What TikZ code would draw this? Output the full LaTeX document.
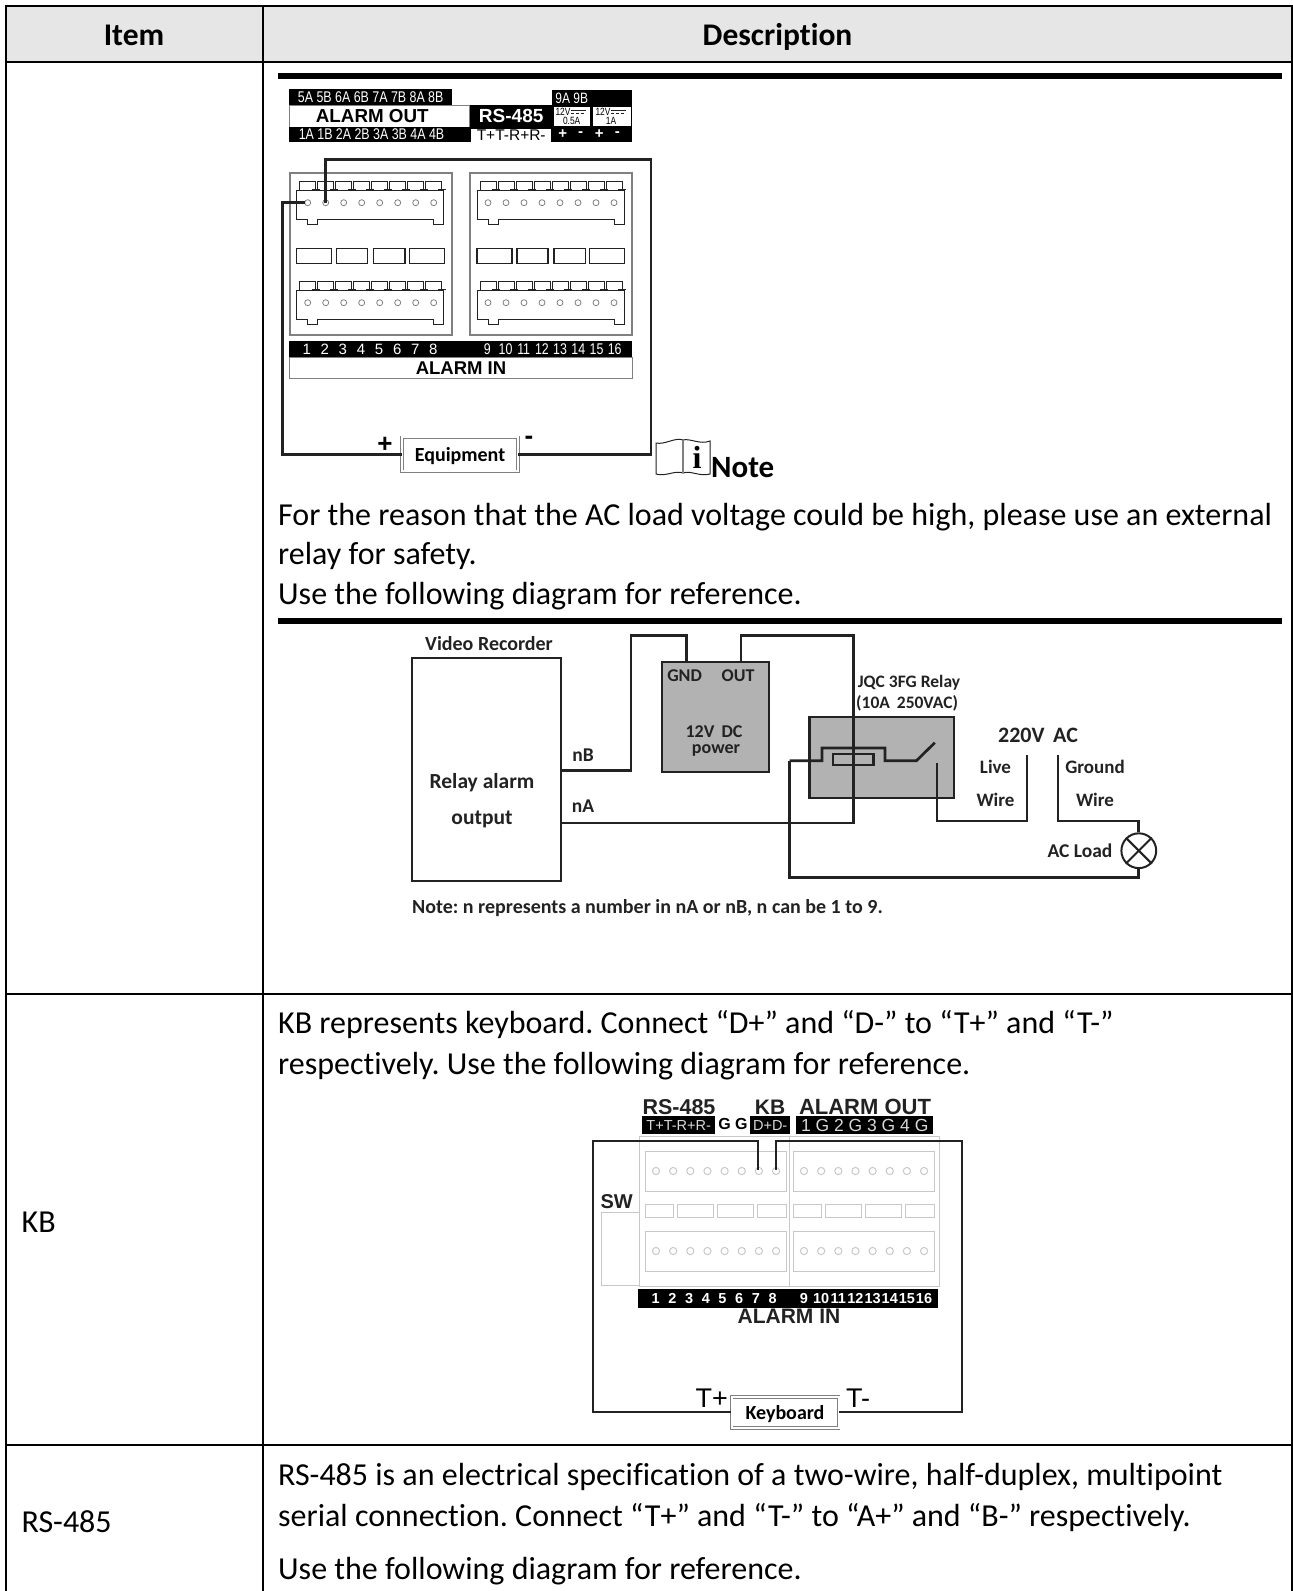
\documentclass[tikz,border=0pt]{standalone}
\usepackage{fontspec}
\setmainfont{Carlito}[Ligatures=NoCommon]
\newfontfamily\lblfont{Liberation Sans}
\newfontfamily\narrowfont[FakeStretch=0.8]{Liberation Sans}
\newfontfamily\iconfont{Liberation Serif}
\newcommand{\fs}[1]{\fontsize{#1}{#1}\selectfont}
\definecolor{headfill}{HTML}{E6E6E6}
\definecolor{boxgray}{HTML}{B2B2B2}
\definecolor{paleline}{HTML}{C8C8C8}
\definecolor{inkline}{HTML}{222222}
\frenchspacing
\tikzset{
rule/.style={line width=2pt, black},
bar/.style={line width=6pt, black},
body/.style={font=\fs{32}, anchor=base west, inner sep=0pt},
wire/.style={line width=2.7pt, inkline},
kbwire/.style={line width=2.2pt, inkline},
fine/.style={line width=0.9pt, inkline},
pale/.style={line width=1pt, paleline},
blackbar/.style={fill=black, text=white, inner sep=0pt, anchor=north west},
whitebar/.style={draw=gray, line width=1pt, fill=white, text=black, inner sep=0pt, anchor=north west},
devbox/.style={draw=gray, double=white, double distance=2pt, line width=0.8pt, fill=white, inner sep=0pt, text depth=0pt, font=\bfseries\fs{20}},
schembox/.style={draw=inkline, line width=2.6pt, inner sep=0pt, anchor=north west},
schemtext/.style={font=\bfseries\fs{19}, inner sep=0pt, text=inkline},
plug/.pic={
\draw[fine] (-11,-12) -- (-11,17) -- (0,17) -- (0,22) -- (10,22) -- (10,17) -- (126,17) -- (126,22) -- (136,22) -- (136,-12) -- cycle;
\foreach \i in {0,...,7} {
\draw[fine] (18*\i-8,-13) -- (18*\i-8,-21.5) -- (18*\i+8,-21.5) -- (18*\i+8,-13);
\draw[fine] (18*\i+4,-13) -- (18*\i+12,-13);
\draw[line width=0.8pt, gray] (18*\i,0) circle (3);
}
},
alarmblock/.pic={
\draw[line width=2pt, gray] (-17.7,-29.7) rectangle (144.3,132.3);
\pic at (0,0) {plug};
\pic at (0,100) {plug};
\foreach \a/\b in {-11/24, 29/60, 66/97.3, 101.6/136.6}
\draw[line width=1.2pt, inkline] (\a,45.6) rectangle (\b,60.6);
},
kbblock/.pic={
\foreach \yy in {0,80} {
\draw[pale] (-11,\yy-19.3) rectangle (130,\yy+20);
\foreach \i in {0,...,7}
\draw[pale] (17.15*\i,\yy) circle (3.6);
}
\foreach \a/\b in {-11/17.3, 21.3/57.3, 61.3/97.3, 101.3/130}
\draw[pale] (\a,33.3) rectangle (\b,46.7);
},
}
\begin{document}
\begin{tikzpicture}[x=1pt,y=-1pt]
\useasboundingbox (0,0) rectangle (1293,1591);
\fill[headfill] (6,6) rectangle (1291.7,62);
\draw[rule] (1291.7,1591) -- (1291.7,6) -- (6,6) -- (6,1591);
\draw[rule] (263,6) -- (263,1591);
\foreach \yy in {62,993.7,1445}
\draw[rule] (6,\yy) -- (1291.7,\yy);
\node[body, anchor=base, font=\bfseries\fs{31.5}] (itemhead) at (134,45.5) {Item};
\node[body, anchor=base, font=\bfseries\fs{31.5}] (deschead) at (777.5,45.5) {Description};

\draw[bar] (278,76) -- (1282,76);
\node[blackbar, minimum width=163pt, minimum height=16pt, font=\narrowfont\fs{15.5}] (outtop) at (289,89) {5A 5B 6A 6B 7A 7B 8A 8B};
\node[whitebar, minimum width=180pt, minimum height=22pt] (outname) at (289,105) {};
\node[inner sep=0pt, font=\lblfont\bfseries\fs{18.8}] (outtxt) at (372.3,116) {ALARM OUT};
\node[blackbar, minimum width=181pt, minimum height=15pt] (outbot) at (289,127) {};
\node[inner sep=0pt, text=white, font=\narrowfont\fs{15.5}] (outpins) at (371.5,134.5) {1A 1B 2A 2B 3A 3B 4A 4B};
\node[blackbar, minimum width=82pt, minimum height=22pt, font=\lblfont\bfseries\fs{19}] (rsname) at (470,105) {RS-485};
\node[blackbar, minimum width=82pt, minimum height=15pt] (rsback) at (470,127) {};
\node[fill=white, inner sep=0pt, minimum width=80pt, minimum height=13.5pt, anchor=north west, font=\lblfont\fs{15.5}] (rspins) at (471,128.3) {T+T-R+R-};
\node[blackbar, minimum width=80pt, minimum height=52pt] (powback) at (552,90) {};
\node[inner sep=0pt, text=white, font=\narrowfont\fs{15}] (ninepins) at (571.7,98.3) {9A 9B};
\node[fill=white, inner sep=0pt, minimum width=36.7pt, minimum height=19.3pt, anchor=north west] (halfamp) at (553.3,106.7) {};
\node[fill=white, inner sep=0pt, minimum width=38pt, minimum height=19.3pt, anchor=north west] (oneamp) at (592.7,106.7) {};
\node[inner sep=0pt, font=\narrowfont\fs{10.5}] (halfv) at (563,112) {12V};
\node[inner sep=0pt, font=\narrowfont\fs{10.5}] (halfa) at (571.7,121) {0.5A};
\node[inner sep=0pt, font=\narrowfont\fs{10.5}] (onev) at (603,112) {12V};
\node[inner sep=0pt, font=\narrowfont\fs{10.5}] (onea) at (611,121) {1A};
\foreach \s/\xp in {halfv/571, onev/611} {
\draw[line width=0.6pt, inkline] (\xp,110) -- (\xp+15,110);
\draw[line width=0.6pt, inkline, densely dashed] (\xp,113) -- (\xp+15,113);
}
\foreach \s/\xp [count=\k] in {+/562.7, -/580.7, +/599.3, -/617.3}
\node[inner sep=0pt, text=white, font=\lblfont\bfseries\fs{15}] (pow\k) at (\xp,134.3) {\s};

\pic at (307.7,202.7) {alarmblock};
\pic at (488,202.7) {alarmblock};
\node[blackbar, minimum width=343pt, minimum height=16pt] (instrip) at (289,341) {};
\foreach \n [evaluate=\n as \xp using 306.7+18.1*(\n-1)] in {1,...,8}
\node[inner sep=0pt, text=white, font=\lblfont\fs{15}] (inl\n) at (\xp,349) {\n};
\foreach \n [evaluate=\n as \xp using 487.3+18.2*(\n-9)] in {9,...,16}
\node[inner sep=0pt, text=white, font=\narrowfont\fs{15.5}] (inl\n) at (\xp,349) {\n};
\node[whitebar, minimum width=343pt, minimum height=21pt, font=\lblfont\bfseries\fs{18.5}] (inname) at (289,357) {ALARM IN};

\coordinate (pinA) at (305,202.7);
\coordinate (pinB) at (325.7,202.7);
\coordinate (leftrun) at (282.7,300);
\coordinate (rightrun) at (651,159.3);
\node[devbox, minimum width=116pt, minimum height=34pt] (equip) at (460,454.3) {Equipment};
\draw[wire] (pinA) -| (leftrun) |- (equip.west);
\draw[wire] (pinB) |- (rightrun) |- (equip.east);
\node[inner sep=0pt, font=\lblfont\bfseries\fs{26}] (eqplus) at (385,445) {+};
\node[inner sep=0pt, font=\lblfont\bfseries\fs{26}] (eqminus) at (529,440) {-};

\draw[line width=1pt, inkline] (656,443) .. controls (665,445) and (675,437) .. (683,440) .. controls (690,438) and (700,445) .. (710,441) -- (710,474) .. controls (700,477) and (690,470) .. (683,473) .. controls (675,470) and (665,477) .. (656,474) -- cycle;
\draw[line width=1.2pt, gray] (683,440) -- (683,473);
\node[inner sep=0pt, anchor=base, font=\iconfont\bfseries\fs{32}] (noteicon) at (697,468) {i};
\node[body, font=\bfseries\fs{31}] (notehead) at (711,477.5) {Note};
\node[body] (reasonA) at (278,525) {For the reason that the AC load voltage could be high, please use an external};
\node[body] (reasonB) at (278,564) {relay for safety.};
\node[body] (reasonC) at (278,604) {Use the following diagram for reference.};
\draw[bar] (278,621) -- (1282,621);

\node[schemtext, anchor=west, font=\bfseries\fs{20}] (vidname) at (425,643.5) {Video Recorder};
\node[schembox, minimum width=149pt, minimum height=223pt] (recorder) at (410.7,656.7) {};
\node[schemtext, font=\bfseries\fs{21.5}] (relayout) at (482,783) {Relay alarm};
\node[schemtext, font=\bfseries\fs{21.5}] (outword) at (482,819) {output};
\node[schembox, fill=boxgray, minimum width=107pt, minimum height=110pt] (power) at (660.7,660.7) {};
\node[schemtext, font=\bfseries\fs{18}] (gndtxt) at (684.6,676) {GND};
\node[schemtext, font=\bfseries\fs{18}] (outpowtxt) at (738,676) {OUT};
\node[schemtext, font=\bfseries\fs{18}] (dctxt) at (714,732) {12V\, DC};
\node[schemtext, font=\bfseries\fs{18}] (powtxt) at (716,750) {power};
\node[schembox, fill=boxgray, minimum width=144.6pt, minimum height=81pt] (relay) at (808.2,715.7) {};
\coordinate (nBpin) at (560,770.7);
\coordinate (nBup) at (631,635.7);
\coordinate (gndpin) at (686.6,662);
\coordinate (outpin) at (741,662);
\coordinate (nAdown) at (853.7,635.7);
\coordinate (nApin) at (560,823);
\draw[wire] (nBpin) -| (nBup) -| (gndpin);
\draw[wire] (outpin) |- (nAdown) |- (nApin);
\coordinate (coilL) at (789.6,760.7);
\coordinate (coilA) at (822,748);
\coordinate (coilB) at (885,748);
\coordinate (coilC) at (916.4,760.7);
\coordinate (armtip) at (934.8,742.7);
\coordinate (contact) at (937,762.7);
\coordinate (livewire) at (1027,755);
\coordinate (groundwire) at (1058,755);
\node[draw=inkline, line width=2pt, circle, fill=white, inner sep=0pt, minimum size=34.8pt] (lamp) at (1138.8,850.7) {};
\draw[line width=2pt, inkline] (lamp.45) -- (lamp.225);
\draw[line width=2pt, inkline] (lamp.135) -- (lamp.315);
\draw[wire] (coilL) -| (coilA) -| (coilB) |- (coilC) -- (armtip);
\draw[wire] (coilL) |- (lamp.south |- 0,877.7) -- (lamp.south);
\draw[wire] (contact) |- (livewire |- 0,821) -- (livewire);
\draw[wire] (groundwire) |- (lamp.north |- 0,821) -- (lamp.north);
\draw[wire] (833,754) rectangle (873.6,765);
\node[schemtext, anchor=west, font=\bfseries\fs{17.5}] (jqctxt) at (857.7,683) {JQC 3FG Relay};
\node[schemtext, anchor=west, font=\bfseries\fs{17.5}] (ratetxt) at (856,703) {(10A\, 250VAC)};
\node[schemtext, font=\bfseries\fs{22}] (actxt) at (1038,735) {220V\, AC};
\node[schemtext] (livetxt) at (995.5,767) {Live};
\node[schemtext] (wireA) at (995.5,800) {Wire};
\node[schemtext] (groundtxt) at (1095,767) {Ground};
\node[schemtext] (wireB) at (1095,800) {Wire};
\node[schemtext, font=\bfseries\fs{19.5}] (loadtxt) at (1080,851) {AC Load};
\node[schemtext, font=\bfseries\fs{19.5}] (nBtxt) at (583,755) {nB};
\node[schemtext, font=\bfseries\fs{19.5}] (nAtxt) at (583,806) {nA};
\node[schemtext, anchor=west, font=\bfseries\fs{20}] (schemnote) at (412,908.5) {Note: n represents a number in nA or nB, n can be 1 to 9.};

\node[body] (kbitem) at (21.5,1232.5) {KB};
\node[body] (kbA) at (278,1033.5) {KB represents keyboard. Connect “D+” and “D-” to “T+” and “T-”};
\node[body] (kbB) at (278,1074) {respectively. Use the following diagram for reference.};

\draw[pale] (639,1136) rectangle (939,1286);
\draw[pale] (789.3,1136) -- (789.3,1286);
\draw[pale] (639,1212.7) -| (601.7,1285) -- (639,1285);
\pic at (656,1171) {kbblock};
\pic at (804,1171) {kbblock};
\node[inner sep=0pt, font=\lblfont\bfseries\fs{21.5}, text=inkline] (rstxt) at (679,1107) {RS-485};
\node[inner sep=0pt, font=\lblfont\bfseries\fs{21}, text=inkline] (kbtxt) at (770,1107.5) {KB};
\node[inner sep=0pt, font=\lblfont\bfseries\fs{22}, text=inkline] (aouttxt) at (865,1107) {ALARM OUT};
\node[blackbar, minimum width=73pt, minimum height=18.3pt, font=\lblfont\fs{14.5}, text=black!15] (rsstrip) at (642,1115.7) {T+T-R+R-};
\node[inner sep=0pt, font=\lblfont\bfseries\fs{16}] (ggtxt) at (733,1124.3) {G G};
\node[blackbar, minimum width=40pt, minimum height=18.3pt, font=\lblfont\fs{14.5}, text=black!15] (kbstrip) at (750,1115.7) {D+D-};
\node[blackbar, minimum width=137pt, minimum height=18.3pt, font=\lblfont\fs{17.5}, text=black!15] (aoutstrip) at (796,1115.7) {1 G 2 G 3 G 4 G};
\coordinate (pinD) at (758,1170);
\coordinate (pinE) at (775.7,1170);
\coordinate (kbleft) at (593.3,1140.7);
\coordinate (kbright) at (961.7,1140.7);
\node[devbox, minimum width=107pt, minimum height=31pt] (keyboard) at (785,1412.3) {Keyboard};
\draw[kbwire] (pinD) |- (kbleft) |- (keyboard.west);
\draw[kbwire] (pinE) |- (kbright) |- (keyboard.east);
\node[inner sep=0pt, font=\lblfont\bfseries\fs{20}, text=inkline] (swtxt) at (616.7,1202) {SW};
\node[blackbar, minimum width=300pt, minimum height=19pt] (kbinstrip) at (638,1289) {};
\foreach \n [evaluate=\n as \xp using 655.7+16.7*(\n-1)] in {1,...,8}
\node[inner sep=0pt, text=white, font=\lblfont\bfseries\fs{14.5}] (kin\n) at (\xp,1298.5) {\n};
\foreach \n [evaluate=\n as \xp using 804+17.15*(\n-9)] in {9,...,16}
\node[inner sep=0pt, text=white, font=\lblfont\bfseries\fs{14.5}] (kin\n) at (\xp,1298.5) {\n};
\node[inner sep=0pt, font=\lblfont\bfseries\fs{21}, text=inkline] (kinname) at (789,1316.7) {ALARM IN};
\node[inner sep=0pt, font=\lblfont\fs{27}] (tplus) at (711.7,1398) {T+};
\node[inner sep=0pt, font=\lblfont\fs{27}] (tminus) at (858,1398) {T-};

\node[body] (rsitem) at (21.5,1532.5) {RS-485};
\node[body] (rsA) at (278,1485.2) {RS-485 is an electrical specification of a two-wire, half-duplex, multipoint};
\node[body] (rsB) at (278,1526.2) {serial connection. Connect “T+” and “T-” to “A+” and “B-” respectively.};
\node[body] (rsC) at (278,1579.2) {Use the following diagram for reference.};
\end{tikzpicture}
\end{document}
